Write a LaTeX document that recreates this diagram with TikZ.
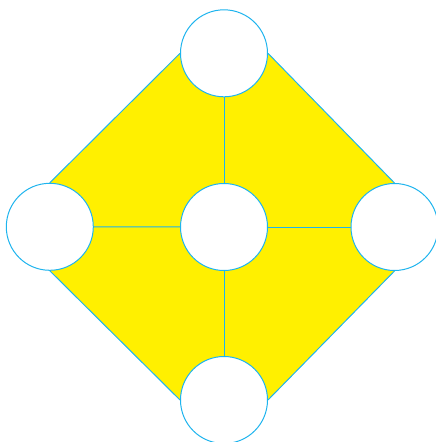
\documentclass[tikz,border=0pt]{standalone}
\usetikzlibrary{backgrounds}
\definecolor{padyellow}{RGB}{255,240,0}
\definecolor{padcyan}{RGB}{30,180,238}
\tikzset{
  pad/.style={circle,draw=padcyan,fill=white,line width=1pt,
    minimum size=87pt,inner sep=0pt},
  link/.style={draw=padcyan,line width=1pt}
}
\begin{document}
\begin{tikzpicture}[x=1pt,y=-1pt]
  \useasboundingbox (0,0) rectangle (436,442);
  \node[pad] (ntop) at (224,53.3) {};
  \node[pad] (nleft) at (49.8,226.8) {};
  \node[pad] (nmid) at (224,227) {};
  \node[pad] (nright) at (394.5,227) {};
  \node[pad] (nbot) at (224,400) {};
  \begin{pgfonlayer}{background}
    \fill[padyellow] (nleft.north) -- (ntop.west) -- (ntop.east) -- (nright.north)
      -- (nright.south) -- (nbot.east) -- (nbot.west) -- (nleft.south) -- cycle;
    \draw[link] (nleft.north) -- (ntop.west);
    \draw[link] (ntop.east) -- (nright.north);
    \draw[link] (nright.south) -- (nbot.east);
    \draw[link] (nbot.west) -- (nleft.south);
    \foreach \n in {ntop,nleft,nright,nbot}
      \draw[link] (nmid) -- (\n);
  \end{pgfonlayer}
\end{tikzpicture}
\end{document}
